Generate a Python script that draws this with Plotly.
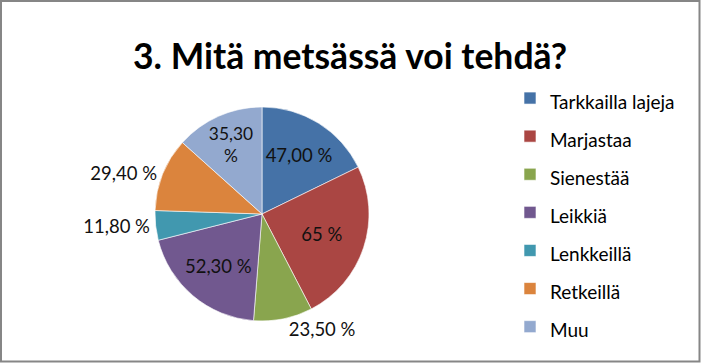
import plotly.graph_objects as go

categories = ["Tarkkailla lajeja", "Marjastaa", "Sienestää", "Leikkiä", "Lenkkeillä", "Retkeillä", "Muu"]
values = [47.00, 65, 23.50, 52.30, 11.80, 29.40, 35.30]
value_labels = ["47,00 %", "65 %", "23,50 %", "52,30 %", "11,80 %", "29,40 %", "35,30<br>%"]
label_positions = ["inside", "inside", "outside", "inside", "outside", "outside", "inside"]
colors = ["#4572A7", "#AA4643", "#89A54E", "#71588F", "#4198AF", "#DB843D", "#93A9CF"]

W, H = 701, 363
FONT = "Lato, 'Open Sans', sans-serif"

legend_names = ['<span style="font-size:19px">%s</span>' % c for c in categories]

fig = go.Figure(go.Pie(
    labels=legend_names,
    values=values,
    text=value_labels,
    texttemplate="%{text}",
    textposition=label_positions,
    insidetextorientation="horizontal",
    textfont=dict(family=FONT, size=18.5, color="#111111"),
    marker=dict(colors=colors, line=dict(color="#ffffff", width=0.6)),
    sort=False,
    direction="clockwise",
    rotation=0,
    hole=0,
    domain=dict(x=[155 / W, 369 / W], y=[(H - 321) / H, (H - 107) / H]),
    showlegend=True,
    automargin=False,
))

fig.update_layout(
    width=W, height=H,
    margin=dict(l=0, r=0, t=0, b=0),
    paper_bgcolor="white",
    plot_bgcolor="white",
    font=dict(family=FONT, color="#000000"),
    title=dict(text="<b>3. Mitä metsässä voi tehdä?</b>", x=350 / W, xanchor="center",
               y=1 - 57 / H, yanchor="middle", yref="container",
               font=dict(family=FONT, size=35.5, color="#000000")),
    legend=dict(x=510 / W, xanchor="left", y=1 - 74 / H, yanchor="top",
                font=dict(family=FONT, size=27, color="#000000"),
                bgcolor="rgba(0,0,0,0)", traceorder="normal"),
    shapes=[dict(type="rect", xref="paper", yref="paper",
                 x0=1 / W, x1=1 - 1.5 / W, y0=1.5 / H, y1=1 - 1 / H,
                 line=dict(color="#868686", width=2))],
)

fig.write_html("out.html",
               config={"displayModeBar": False},
               post_script="document.body.style.margin='0';document.body.style.overflow='hidden';")
